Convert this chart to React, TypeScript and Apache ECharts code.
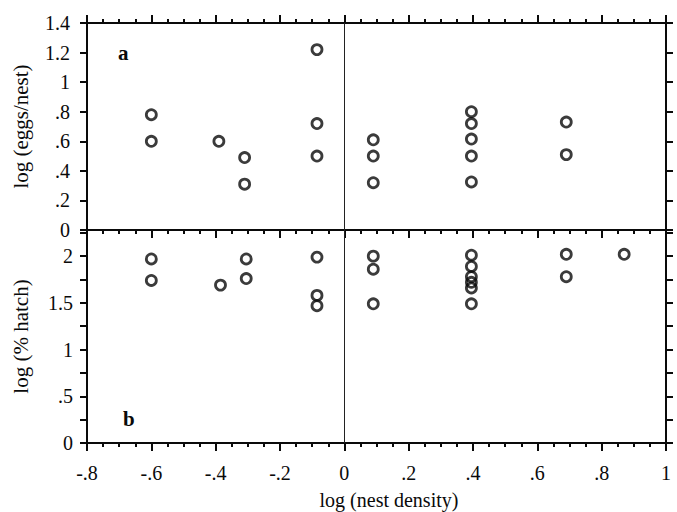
import React, { useEffect, useRef } from "react";
import * as echarts from "echarts";

// Panel a: log (eggs/nest) vs log (nest density)
const eggsX = [-0.6, -0.6, -0.39, -0.31, -0.31, -0.085, -0.085, -0.085, 0.09, 0.09, 0.09, 0.395, 0.395, 0.395, 0.395, 0.395, 0.69, 0.69];
const eggsY = [0.78, 0.6, 0.6, 0.49, 0.31, 1.22, 0.72, 0.5, 0.61, 0.5, 0.32, 0.8, 0.72, 0.615, 0.5, 0.325, 0.73, 0.51];

// Panel b: log (% hatch) vs log (nest density)
const hatchX = [-0.6, -0.6, -0.385, -0.305, -0.305, -0.085, -0.085, -0.085, 0.09, 0.09, 0.09, 0.395, 0.395, 0.395, 0.395, 0.395, 0.395, 0.69, 0.69, 0.87];
const hatchY = [1.97, 1.74, 1.69, 1.97, 1.76, 1.99, 1.58, 1.47, 2.0, 1.86, 1.49, 2.01, 1.89, 1.78, 1.72, 1.66, 1.49, 2.02, 1.78, 2.02];

const xTitle = "log (nest density)";
const yTitleA = "log (eggs/nest)";
const yTitleB = "log (% hatch)";

const FONT = "Liberation Serif";
const INK = "#0a0a0a";

function fmt(v: number): string {
  if (Math.abs(v) < 1e-9) return "0";
  let s = String(+v.toFixed(2));
  s = s.replace(/^0\./, ".").replace(/^-0\./, "-.");
  return s;
}

export default function App() {
  const ref = useRef<HTMLDivElement>(null);
  useEffect(() => {
    if (!ref.current) return;
    const chart = echarts.init(ref.current, undefined, { renderer: "svg" });
    const axisLine = { show: true, onZero: false, lineStyle: { color: INK, width: 2 } };
    const labelStyle = { fontFamily: FONT, fontSize: 20, color: INK };
    const xBase = (gridIndex: number, position: string, showLabel: boolean) => ({
      type: "value",
      gridIndex,
      position,
      min: -0.8,
      max: 1,
      interval: 0.2,
      axisLine,
      axisTick: { show: true, inside: false, length: 8, lineStyle: { color: INK, width: 2 } },
      minorTick: { show: true, splitNumber: 4, length: 4, lineStyle: { color: INK, width: 2 } },
      splitLine: { show: false },
      axisLabel: showLabel
        ? { show: true, margin: 20, formatter: (v: number) => fmt(v), ...labelStyle }
        : { show: false },
    });
    const markLine = {
      silent: true,
      symbol: ["none", "none"],
      label: { show: false },
      lineStyle: { color: "#222", width: 1, type: "solid" },
      data: [{ xAxis: 0 }],
    };
    const symbolStyle = { color: "rgba(0,0,0,0)", borderColor: INK, borderWidth: 2.8 };
    chart.setOption({
      animation: false,
      backgroundColor: "#ffffff",
      grid: [
        { left: 87, right: 11, top: 23, height: 207 },
        { left: 87, right: 11, top: 230, height: 213 },
      ],
      xAxis: [xBase(0, "top", false), xBase(0, "bottom", false), xBase(1, "bottom", true)],
      yAxis: [
        {
          type: "value",
          gridIndex: 0,
          position: "left",
          min: 0,
          max: 1.4,
          interval: 0.2,
          axisLine,
          axisTick: { show: true, length: 7, lineStyle: { color: INK, width: 2 } },
          splitLine: { show: false },
          axisLabel: { margin: 17, formatter: (v: number) => fmt(v), ...labelStyle },
          name: yTitleA,
          nameLocation: "middle",
          nameGap: 56,
          nameRotate: 90,
          nameTextStyle: { fontFamily: FONT, fontSize: 21, color: INK },
        },
        {
          type: "value",
          gridIndex: 0,
          position: "right",
          min: 0,
          max: 1.4,
          interval: 0.2,
          axisLine,
          axisTick: { show: true, length: 7, lineStyle: { color: INK, width: 2 } },
          splitLine: { show: false },
          axisLabel: { show: false },
        },
        {
          type: "value",
          gridIndex: 1,
          position: "left",
          min: 0,
          max: 2.28,
          interval: 0.25,
          axisLine,
          axisTick: { show: true, length: 7, lineStyle: { color: INK, width: 2 } },
          splitLine: { show: false },
          axisLabel: {
            margin: 14,
            showMaxLabel: false,
            formatter: (v: number) => (Math.abs(v * 2 - Math.round(v * 2)) < 1e-6 ? fmt(v) : ""),
            ...labelStyle,
          },
          name: yTitleB,
          nameLocation: "middle",
          nameGap: 56,
          nameRotate: 90,
          nameTextStyle: { fontFamily: FONT, fontSize: 21, color: INK },
        },
        {
          type: "value",
          gridIndex: 1,
          position: "right",
          min: 0,
          max: 2.28,
          interval: 0.25,
          axisLine,
          axisTick: { show: true, length: 7, lineStyle: { color: INK, width: 2 } },
          splitLine: { show: false },
          axisLabel: { show: false },
        },
      ],
      series: [
        {
          type: "scatter",
          xAxisIndex: 1,
          yAxisIndex: 0,
          symbol: "circle",
          symbolSize: 10,
          itemStyle: symbolStyle,
          data: eggsX.map((x, i) => [x, eggsY[i]]),
          markLine,
        },
        {
          type: "scatter",
          xAxisIndex: 2,
          yAxisIndex: 2,
          symbol: "circle",
          symbolSize: 10,
          itemStyle: symbolStyle,
          data: hatchX.map((x, i) => [x, hatchY[i]]),
          markLine,
        },
      ],
      graphic: [
        {
          type: "text",
          left: 118,
          top: 42,
          style: { text: "a", font: `bold 21px "${FONT}"`, fill: INK },
        },
        {
          type: "text",
          left: 123,
          top: 408,
          style: { text: "b", font: `bold 21px "${FONT}"`, fill: INK },
        },
        {
          type: "text",
          x: 389,
          y: 490,
          style: { text: xTitle, font: `20px "${FONT}"`, fill: INK, align: "center", verticalAlign: "top" },
        },
      ],
    });
    return () => chart.dispose();
  }, []);
  return (
    <div
      ref={ref}
      style={{ position: "fixed", left: 0, top: 0, width: 677, height: 512, background: "#fff" }}
    />
  );
}
